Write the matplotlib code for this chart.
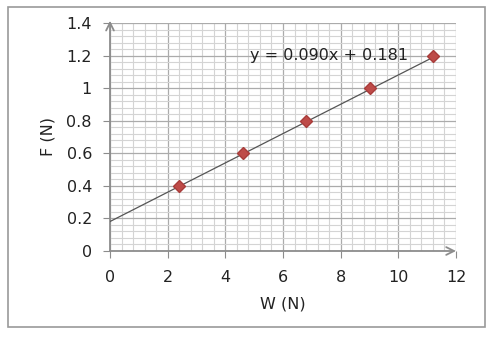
import matplotlib
matplotlib.use("Agg")
import matplotlib.pyplot as plt
from matplotlib.patches import Rectangle
from matplotlib.ticker import MultipleLocator

plt.rcParams['font.family'] = ['DejaVu Sans']

# data
w_vals = [2.4, 4.6, 6.8, 9.0, 11.2]
f_vals = [0.4, 0.6, 0.8, 1.0, 1.2]
slope = 0.090
intercept = 0.181
eq_text = "y = 0.090x + 0.181"
x_ticks = [0, 2, 4, 6, 8, 10, 12]
y_ticks = [0, 0.2, 0.4, 0.6, 0.8, 1, 1.2, 1.4]
y_tick_labels = ["0", "0.2", "0.4", "0.6", "0.8", "1", "1.2", "1.4"]

fig = plt.figure(figsize=(4.94, 3.38), dpi=100)
fig.patches.append(Rectangle((8 / 494, 1 - 327 / 338), 477 / 494, 320 / 338,
                             transform=fig.transFigure, fill=False,
                             edgecolor='#9a9a9a', linewidth=1.2))

ax = fig.add_axes([110 / 494, 1 - 251 / 338, 346 / 494, 228 / 338])
ax.set_xlim(0, 12)
ax.set_ylim(0, 1.4)

ax.xaxis.set_minor_locator(MultipleLocator(0.4))
ax.yaxis.set_minor_locator(MultipleLocator(0.04))
ax.grid(which='minor', color='#d4d4d4', linewidth=0.8)
ax.grid(which='major', color='#ababab', linewidth=0.9)
ax.set_axisbelow(True)

for s in ax.spines.values():
    s.set_visible(False)

# axes with arrow heads
ax.annotate('', xy=(0, 1.01), xytext=(0, 0), xycoords='axes fraction',
            arrowprops=dict(arrowstyle='->', color='#8c8c8c', lw=1.3,
                            mutation_scale=14, shrinkA=0, shrinkB=0))
ax.annotate('', xy=(1.0, 0), xytext=(0, 0), xycoords='axes fraction',
            arrowprops=dict(arrowstyle='->', color='#8c8c8c', lw=1.3,
                            mutation_scale=14, shrinkA=0, shrinkB=0))

ax.set_xticks(x_ticks)
ax.set_yticks(y_ticks)
ax.set_yticklabels(y_tick_labels)
ax.tick_params(which='major', length=5, color='#8c8c8c', labelsize=11.5,
               labelcolor='#222222')
ax.tick_params(which='minor', length=0)
ax.tick_params(axis='x', pad=9)
ax.tick_params(axis='y', pad=8)

# trend line
x_line = [0, max(w_vals)]
y_line = [intercept + slope * x for x in x_line]
ax.plot(x_line, y_line, color='#555555', linewidth=0.9, zorder=3)
ax.plot(w_vals, f_vals, linestyle='none', marker='D', markersize=6,
        color='#be4b48', markeredgecolor='#a83c3a', zorder=4)

ax.text(4.86, 1.2, eq_text, fontsize=11.5, color='#222222', va='center', ha='left',
        zorder=5)

ax.set_xlabel("W (N)", fontsize=11.5, color='#222222', labelpad=8)
ax.set_ylabel("F (N)", fontsize=11.5, color='#222222', labelpad=8)

fig.savefig("out.png", dpi=100)
